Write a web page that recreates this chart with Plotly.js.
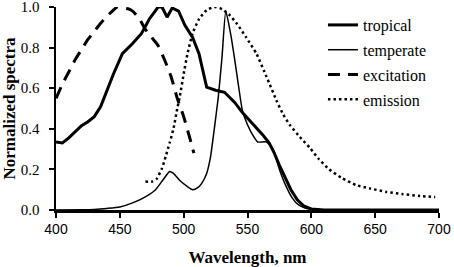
<!DOCTYPE html>
<html><head><meta charset="utf-8">
<script src="https://cdn.plot.ly/plotly-3.0.1.min.js"></script>
<style>html,body{margin:0;padding:0;background:#fff}#c{width:454px;height:267px}</style>
</head><body><div id="c"></div>
<script>
const tropX = [400,405,410,415,420,425,430,435,440,445,452,460,467,473,480,483,487,491,496,501,507,512,518,525,532,540,546,555,562,567,571,575,580,584,589,594,600,610,650,700];
const tropY = [0.335,0.33,0.355,0.385,0.415,0.435,0.46,0.51,0.59,0.67,0.77,0.82,0.87,0.94,1.0,1.0,0.95,0.995,0.98,0.91,0.85,0.77,0.605,0.59,0.58,0.53,0.48,0.42,0.37,0.33,0.28,0.22,0.15,0.1,0.05,0.02,0.005,0,0,0];
const tempX = [400,420,430,440,450,460,470,478,484,489,492,497,503,507,511,514,518,521,524,527,530,533,537,540,543,546,550,555,558,565,570,575,580,585,590,595,600,620,700];
const tempY = [0,0.001,0.003,0.008,0.015,0.035,0.065,0.1,0.15,0.19,0.18,0.145,0.115,0.1,0.11,0.13,0.18,0.26,0.4,0.55,0.75,0.98,0.86,0.74,0.61,0.49,0.42,0.36,0.335,0.335,0.3,0.2,0.12,0.06,0.025,0.01,0.003,0,0];
const excX = [400,405,410,415,420,425,430,435,440,445,448,452,457,460,465,470,475,480,485,490,495,500,505,508];
const excY = [0.55,0.62,0.68,0.74,0.79,0.84,0.88,0.92,0.955,0.985,1.0,0.995,0.99,0.98,0.945,0.89,0.85,0.81,0.74,0.66,0.55,0.46,0.35,0.28];
const emiX = [470,475,479,483,486,489,492,495,497,500,503,507,512,518,524,530,536,542,549,557,565,573,578,583,591,599,606,614,624,635,646,659,671,685,697];
const emiY = [0.14,0.14,0.155,0.205,0.265,0.33,0.4,0.5,0.56,0.67,0.77,0.87,0.94,0.985,1.0,0.99,0.96,0.915,0.85,0.77,0.655,0.535,0.47,0.42,0.36,0.305,0.25,0.2,0.157,0.123,0.106,0.089,0.079,0.069,0.064];
const names = ['tropical','temperate','excitation','emission'];
const xTicks = [400,450,500,550,600,650,700];
const yTicks = [0,0.2,0.4,0.6,0.8,1.0];

const traces = [
  {x: tropX, y: tropY, name: names[0], legendgroup:'a', mode:'lines', line:{color:'#000', width:3}},
  {x: tempX, y: tempY, name: names[1], legendgroup:'b', mode:'lines', line:{color:'#000', width:1.5, shape:'spline', smoothing:0.5}},
  {x: excX, y: excY, name: names[2], legendgroup:'c', mode:'lines', line:{color:'#000', width:3, dash:'12px,8px', shape:'spline', smoothing:0.5}},
  {x: emiX, y: emiY, name: names[3], legendgroup:'d', mode:'lines', line:{color:'#000', width:2.5, dash:'2.5px,3px', shape:'spline', smoothing:0.5}}
];
const layout = {
  width:454, height:267,
  margin:{l:56, r:15, t:7, b:57},
  paper_bgcolor:'#fff', plot_bgcolor:'#fff',
  showlegend:true,
  legend:{x:0.697, xanchor:'left', y:0.995, yanchor:'top', traceorder:'grouped', tracegroupgap:1,
    font:{family:'Liberation Serif', size:16, color:'#000'}, bgcolor:'rgba(0,0,0,0)'},
  xaxis:{range:[400,700], tickvals:xTicks, ticks:'outside', ticklen:5, tickwidth:2, tickcolor:'#000',
    showline:true, linewidth:2.5, linecolor:'#000', showgrid:false, zeroline:false,
    tickfont:{family:'Liberation Sans', size:14, color:'#000'},
    title:{text:'<b>Wavelength, nm</b>', font:{family:'Liberation Serif', size:17, color:'#000'}}},
  yaxis:{range:[0,1], tickvals:yTicks, tickformat:'.1f', ticks:'outside', ticklen:5, tickwidth:2, tickcolor:'#000',
    showline:true, linewidth:2.5, linecolor:'#000', showgrid:false, zeroline:false, ticklabelstandoff:6,
    ticklabeloverflow:'allow',
    tickfont:{family:'Liberation Serif', size:15, color:'#000'},
    title:{text:'<b>Normalized spectra</b>', font:{family:'Liberation Serif', size:17, color:'#000'}}}
};
Plotly.newPlot('c', traces, layout, {staticPlot:true, displayModeBar:false});
</script></body></html>
